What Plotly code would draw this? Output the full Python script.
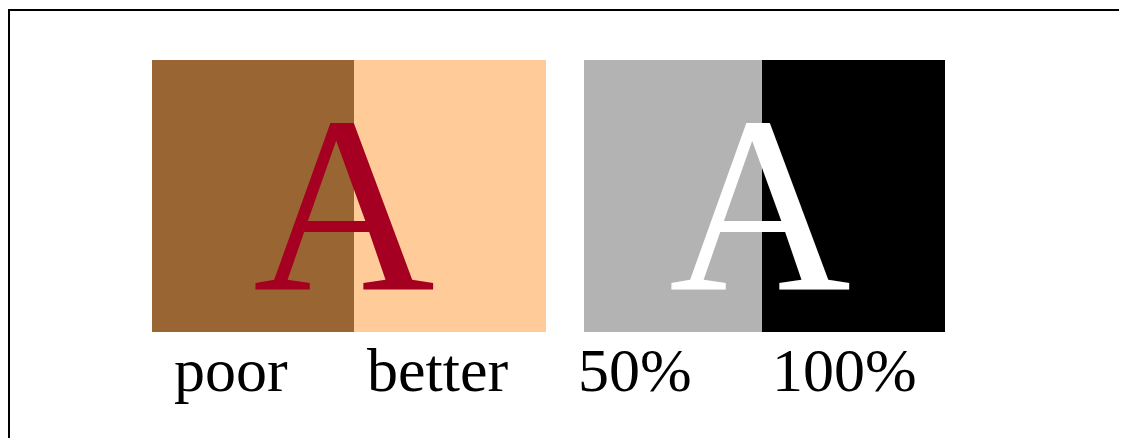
import plotly.graph_objects as go

# --- data ---
labels = ["poor", "better", "50%", "100%"]
fill_colors = ["#996633", "#FFCC99", "#B3B3B3", "#000000"]
letters = ["A", "A"]
letter_colors = ["#A50021", "#FFFFFF"]

# --- layout geometry (page pixel space; the page body has an 8px margin) ---
W, H = 1127, 438
OFF = 8
rect_x = [(152, 354), (354, 546), (584, 762), (762, 945)]
rect_y = (60, 332)
label_cx = [230.5, 437.5, 635, 844]
label_cy = 370
letter_cx = [343.5, 759.5]
letter_cy = 205

fig = go.Figure()
fig.add_trace(go.Scatter(x=[OFF, W + OFF], y=[OFF, H + OFF], mode="markers",
                         marker=dict(opacity=0), hoverinfo="skip", showlegend=False))

shapes = []
for (x0, x1), c in zip(rect_x, fill_colors):
    shapes.append(dict(type="rect", xref="x", yref="y", x0=x0, x1=x1,
                       y0=rect_y[0], y1=rect_y[1], fillcolor=c,
                       line=dict(width=0), layer="below"))
# frame
shapes.append(dict(type="rect", xref="x", yref="y", x0=OFF + 1, x1=W + 40,
                   y0=10, y1=H + 40, fillcolor="rgba(0,0,0,0)",
                   line=dict(color="black", width=2)))

annotations = []
for t, cx in zip(labels, label_cx):
    annotations.append(dict(text=t, x=cx, y=label_cy, xref="x", yref="y",
                            xanchor="center", yanchor="middle", showarrow=False,
                            font=dict(family="Liberation Serif", size=62, color="black")))
for t, cx, col in zip(letters, letter_cx, letter_colors):
    annotations.append(dict(text=t, x=cx, y=letter_cy, xref="x", yref="y",
                            xanchor="center", yanchor="middle", showarrow=False,
                            font=dict(family="Liberation Serif", size=252, color=col)))

fig.update_layout(
    width=W, height=H,
    margin=dict(l=0, r=0, t=0, b=0),
    paper_bgcolor="white", plot_bgcolor="white",
    xaxis=dict(range=[OFF, W + OFF], visible=False, fixedrange=True),
    yaxis=dict(range=[H + OFF, OFF], visible=False, fixedrange=True),
    shapes=shapes, annotations=annotations,
    showlegend=False,
)
fig.write_html("out.html")
